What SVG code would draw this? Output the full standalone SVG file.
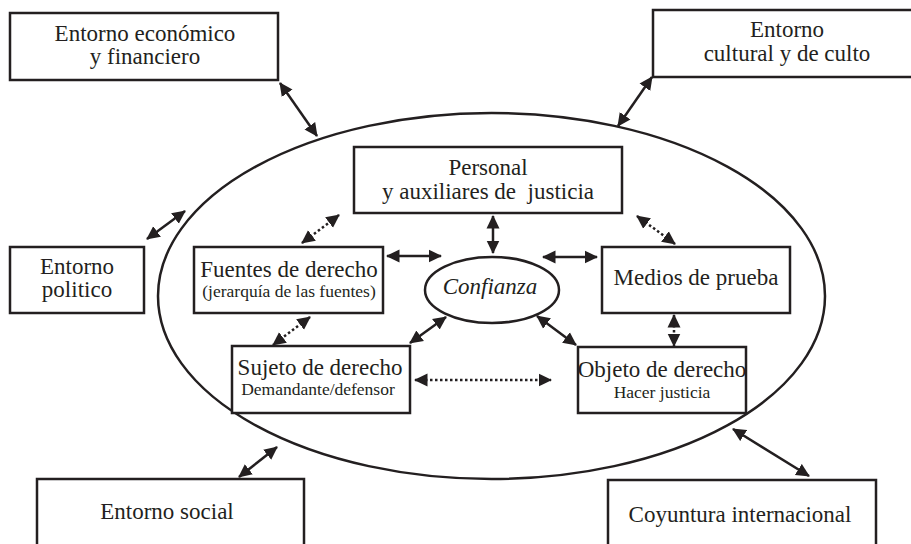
<svg xmlns="http://www.w3.org/2000/svg" width="911" height="544" viewBox="0 0 911 544">
  <style>
    .box { fill: #fff; stroke: #231f20; stroke-width: 2.5; }
    .ell { fill: none; stroke: #231f20; stroke-width: 2.5; }
    .t { font-family: "Liberation Serif", "Times New Roman", serif; font-size: 23px; fill: #231f20; text-anchor: middle; }
    .s { font-family: "Liberation Serif", "Times New Roman", serif; font-size: 17.5px; fill: #231f20; text-anchor: middle; }
    .i { font-style: italic; }
    .solid { stroke: #231f20; stroke-width: 2.5; fill: none; marker-start: url(#ah); marker-end: url(#ah); }
    .dot { stroke: #231f20; stroke-width: 2.5; fill: none; stroke-dasharray: 2.5 2.5; marker-start: url(#ah); marker-end: url(#ah); }
  </style>
  <defs>
    <marker id="ah" markerUnits="userSpaceOnUse" markerWidth="14" markerHeight="14" viewBox="0 0 14 14" refX="12.5" refY="7" orient="auto-start-reverse">
      <path d="M0,0.5 L13.5,7 L0,13.5 Z" fill="#231f20"/>
    </marker>
  </defs>
  <rect width="911" height="544" fill="#fff"/>

  <g id="ambito">
    <ellipse class="ell" cx="491.5" cy="296" rx="333.5" ry="183"/>
  </g>

  <g id="entorno-economico">
    <rect class="box" x="10" y="13" width="268" height="67"/>
    <text class="t" x="145" y="41">Entorno económico</text>
    <text class="t" x="145" y="64">y financiero</text>
  </g>
  <g id="entorno-cultural">
    <rect class="box" x="653" y="10" width="275" height="67"/>
    <text class="t" x="787" y="37">Entorno</text>
    <text class="t" x="787" y="61">cultural y de culto</text>
  </g>
  <g id="entorno-politico">
    <rect class="box" x="10" y="247" width="134" height="66"/>
    <text class="t" x="77" y="274">Entorno</text>
    <text class="t" x="77" y="297">politico</text>
  </g>
  <g id="entorno-social">
    <rect class="box" x="37" y="479" width="267" height="80"/>
    <text class="t" x="167" y="519">Entorno social</text>
  </g>
  <g id="coyuntura-internacional">
    <rect class="box" x="608" y="480" width="268" height="80"/>
    <text class="t" x="740" y="522">Coyuntura internacional</text>
  </g>
  <g id="personal">
    <rect class="box" x="354" y="147" width="268" height="66"/>
    <text class="t" x="488" y="175">Personal</text>
    <text class="t" x="488" y="199" xml:space="preserve" style="white-space:pre">y auxiliares de  justicia</text>
  </g>
  <g id="fuentes">
    <rect class="box" x="194" y="247" width="189" height="66"/>
    <text class="t" x="289" y="277">Fuentes de derecho</text>
    <text class="s" x="289" y="297">(jerarquía de las fuentes)</text>
  </g>
  <g id="medios">
    <rect class="box" x="602" y="247" width="188" height="66"/>
    <text class="t" x="696" y="285">Medios de prueba</text>
  </g>
  <g id="sujeto">
    <rect class="box" x="232" y="346" width="178" height="67"/>
    <text class="t" x="320" y="375">Sujeto de derecho</text>
    <text class="s" x="318" y="395">Demandante/defensor</text>
  </g>
  <g id="objeto">
    <rect class="box" x="578" y="347" width="168" height="66"/>
    <text class="t" x="662" y="377">Objeto de derecho</text>
    <text class="s" x="662" y="398">Hacer justicia</text>
  </g>
  <g id="confianza">
    <ellipse class="ell" cx="492" cy="290" rx="67" ry="33"/>
    <text class="t i" x="490" y="294">Confianza</text>
  </g>

  <g id="connectors">
    <line class="solid" x1="280" y1="83" x2="317" y2="136"/>
    <line class="solid" x1="652" y1="77" x2="618" y2="126"/>
    <line class="solid" x1="147" y1="239" x2="185" y2="211"/>
    <line class="solid" x1="239" y1="477" x2="277" y2="447"/>
    <line class="solid" x1="733" y1="429" x2="809" y2="476"/>
    <line class="solid" x1="493" y1="216" x2="493" y2="253"/>
    <line class="solid" x1="387" y1="256" x2="441" y2="256"/>
    <line class="solid" x1="543" y1="257" x2="597" y2="257"/>
    <line class="solid" x1="410" y1="343" x2="446" y2="317"/>
    <line class="solid" x1="537" y1="316" x2="576" y2="345"/>
    <line class="dot" x1="302" y1="243" x2="339" y2="215"/>
    <line class="dot" x1="637" y1="216" x2="675" y2="244"/>
    <line class="dot" x1="310" y1="317" x2="273" y2="345"/>
    <line class="dot" x1="674" y1="315" x2="674" y2="346"/>
    <line class="dot" x1="415" y1="380" x2="551" y2="380"/>
  </g>
</svg>
